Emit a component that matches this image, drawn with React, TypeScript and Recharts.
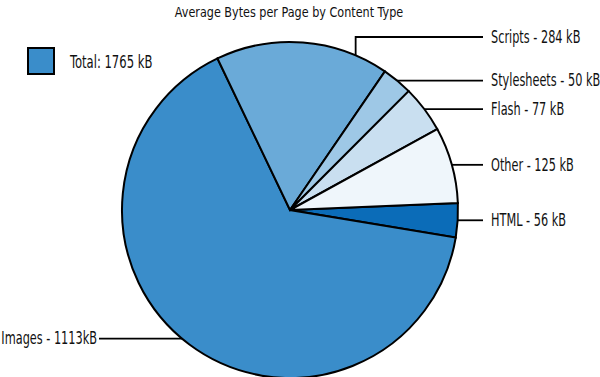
import { PieChart, Pie, Cell, Legend } from "recharts";

const categories = ["HTML", "Images", "Scripts", "Stylesheets", "Flash", "Other"];
const sizesKb = [56, 1113, 284, 50, 77, 125];
const labelTexts = [
  "HTML - 56 kB",
  "Images - 1113kB",
  "Scripts - 284 kB",
  "Stylesheets - 50 kB",
  "Flash - 77 kB",
  "Other - 125 kB",
];
const totalKb = 1765;
const title = "Average Bytes per Page by Content Type";

const colors = ["#0b6cb8", "#3a8dca", "#6aaad8", "#9ec8e6", "#c9dff0", "#eff6fb"];

const data = categories.map((name, i) => ({
  name,
  value: sizesKb[i],
}));

const FONT = "'DejaVu Sans Condensed', 'DejaVu Sans', sans-serif";
const RADIAN = Math.PI / 180;
const LINE_END = 483;
const TEXT_X = 491;
const SQUEEZE = 0.74; // the original face is narrower than DejaVu Condensed

// where the leader line leaves the pie (some are nudged off the mid angle)
const anchorAngle: Record<string, number> = { Scripts: 67, Images: -130 };

function Narrow({ x, y, anchor = "start", size = 17, squeeze = SQUEEZE, children }: any) {
  return (
    <text
      transform={`translate(${x},${y}) scale(${squeeze},1)`}
      textAnchor={anchor}
      dominantBaseline="central"
      fontSize={size}
      fontFamily={FONT}
      fill="#111"
    >
      {children}
    </text>
  );
}

function renderLabel(props: any) {
  const { cx, cy, outerRadius, midAngle, payload, index } = props;
  const name = payload?.name ?? categories[index];
  const i = categories.indexOf(name);
  const ang = anchorAngle[name] ?? midAngle;
  const sx = cx + outerRadius * Math.cos(-ang * RADIAN);
  const sy = cy + outerRadius * Math.sin(-ang * RADIAN);
  const text = labelTexts[i];

  if (name === "Images") {
    return (
      <g key={name}>
        <path d={`M${sx},${sy}H99`} stroke="#000" strokeWidth={1.8} fill="none" />
        <Narrow x={97} y={sy} anchor="end">{text}</Narrow>
      </g>
    );
  }
  if (name === "Scripts") {
    const ty = cy - outerRadius - 5;
    return (
      <g key={name}>
        <path d={`M${sx},${sy}V${ty}H${LINE_END}`} stroke="#000" strokeWidth={1.8} fill="none" />
        <Narrow x={TEXT_X} y={ty}>{text}</Narrow>
      </g>
    );
  }
  return (
    <g key={name}>
      <path d={`M${sx},${sy}H${LINE_END}`} stroke="#000" strokeWidth={1.8} fill="none" />
      <Narrow x={TEXT_X} y={sy}>{text}</Narrow>
    </g>
  );
}

function TotalLegend() {
  return (
    <svg width={160} height={30} style={{ display: "block" }}>
      <rect x={1} y={1} width={26} height={26} fill={colors[1]} stroke="#000" strokeWidth={2} />
      <Narrow x={43} y={15} squeeze={0.76}>{`Total: ${totalKb} kB`}</Narrow>
    </svg>
  );
}

export default function App() {
  return (
    <div style={{ position: "absolute", left: 0, top: 0, width: 600, height: 377, background: "#fff" }}>
      <PieChart width={600} height={377} margin={{ top: 0, right: 0, bottom: 0, left: 0 }}>
        <Pie
          data={data}
          dataKey="value"
          nameKey="name"
          cx={290}
          cy={210}
          outerRadius={168}
          startAngle={2.4}
          endAngle={-357.6}
          stroke="#000"
          strokeWidth={2}
          label={renderLabel}
          labelLine={false}
          isAnimationActive={false}
        >
          {data.map((d, i) => (
            <Cell key={d.name} fill={colors[i]} />
          ))}
        </Pie>
        <Legend
          content={() => <TotalLegend />}
          wrapperStyle={{ position: "absolute", left: 27, top: 47, width: 160 }}
        />
      </PieChart>
      <svg width={600} height={24} style={{ position: "absolute", left: 0, top: 0 }}>
        <Narrow x={289} y={12} anchor="middle" size={14} squeeze={0.89}>
          {title}
        </Narrow>
      </svg>
    </div>
  );
}
